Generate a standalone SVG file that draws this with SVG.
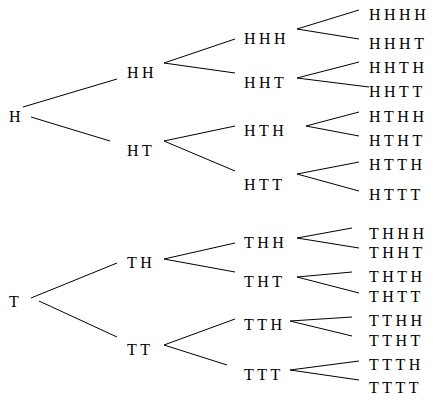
<svg xmlns="http://www.w3.org/2000/svg" width="437" height="404" viewBox="0 0 437 404">
<style>
text{font-family:"Liberation Serif","Times New Roman",serif;font-size:16px;letter-spacing:3.5px;fill:#000}
.c line{stroke:#000;stroke-width:1}
</style>
<rect width="437" height="404" fill="#fff"/>
<g class="c" id="connectors">
<line x1="23" y1="107" x2="117" y2="79"/>
<line x1="31" y1="117" x2="110" y2="141"/>
<line x1="164" y1="63" x2="235" y2="39"/>
<line x1="164" y1="63" x2="235" y2="73"/>
<line x1="164" y1="141" x2="235" y2="126"/>
<line x1="164" y1="141" x2="235" y2="171"/>
<line x1="297" y1="29" x2="359" y2="10"/>
<line x1="297" y1="29" x2="359" y2="39"/>
<line x1="297" y1="78" x2="359" y2="62"/>
<line x1="297" y1="78" x2="369" y2="87"/>
<line x1="306" y1="126" x2="359" y2="112"/>
<line x1="306" y1="126" x2="359" y2="136"/>
<line x1="297" y1="174" x2="359" y2="162"/>
<line x1="297" y1="174" x2="359" y2="191"/>
<line x1="31" y1="298" x2="117" y2="263"/>
<line x1="39" y1="301" x2="117" y2="337"/>
<line x1="164" y1="259" x2="235" y2="243"/>
<line x1="164" y1="259" x2="235" y2="272"/>
<line x1="164" y1="345" x2="235" y2="319"/>
<line x1="164" y1="345" x2="227" y2="365"/>
<line x1="297" y1="238" x2="352" y2="228"/>
<line x1="297" y1="238" x2="359" y2="248"/>
<line x1="297" y1="277" x2="352" y2="272"/>
<line x1="297" y1="277" x2="359" y2="293"/>
<line x1="290" y1="321" x2="352" y2="317"/>
<line x1="290" y1="321" x2="352" y2="336"/>
<line x1="290" y1="370" x2="359" y2="361"/>
<line x1="290" y1="370" x2="359" y2="380"/>
</g>
<g id="n-H"><text x="9" y="122">H</text></g>
<g id="n-HH"><text x="127" y="78">HH</text></g>
<g id="n-HT"><text x="127" y="156">HT</text></g>
<g id="n-HHH"><text x="244" y="44">HHH</text></g>
<g id="n-HHT"><text x="244" y="88">HHT</text></g>
<g id="n-HTH"><text x="244" y="136">HTH</text></g>
<g id="n-HTT"><text x="244" y="190">HTT</text></g>
<g id="n-HHHH"><text x="369" y="20">HHHH</text></g>
<g id="n-HHHT"><text x="369" y="49">HHHT</text></g>
<g id="n-HHTH"><text x="369" y="73">HHTH</text></g>
<g id="n-HHTT"><text x="369" y="97">HHTT</text></g>
<g id="n-HTHH"><text x="369" y="122">HTHH</text></g>
<g id="n-HTHT"><text x="369" y="146">HTHT</text></g>
<g id="n-HTTH"><text x="369" y="170">HTTH</text></g>
<g id="n-HTTT"><text x="369" y="200">HTTT</text></g>
<g id="n-T"><text x="9" y="307">T</text></g>
<g id="n-TH"><text x="127" y="268">TH</text></g>
<g id="n-TT"><text x="127" y="355">TT</text></g>
<g id="n-THH"><text x="244" y="248">THH</text></g>
<g id="n-THT"><text x="244" y="287">THT</text></g>
<g id="n-TTH"><text x="244" y="330">TTH</text></g>
<g id="n-TTT"><text x="244" y="380">TTT</text></g>
<g id="n-THHH"><text x="369" y="239">THHH</text></g>
<g id="n-THHT"><text x="369" y="258">THHT</text></g>
<g id="n-THTH"><text x="369" y="282">THTH</text></g>
<g id="n-THTT"><text x="369" y="302">THTT</text></g>
<g id="n-TTHH"><text x="369" y="326">TTHH</text></g>
<g id="n-TTHT"><text x="369" y="346">TTHT</text></g>
<g id="n-TTTH"><text x="369" y="370">TTTH</text></g>
<g id="n-TTTT"><text x="369" y="393">TTTT</text></g>
</svg>
